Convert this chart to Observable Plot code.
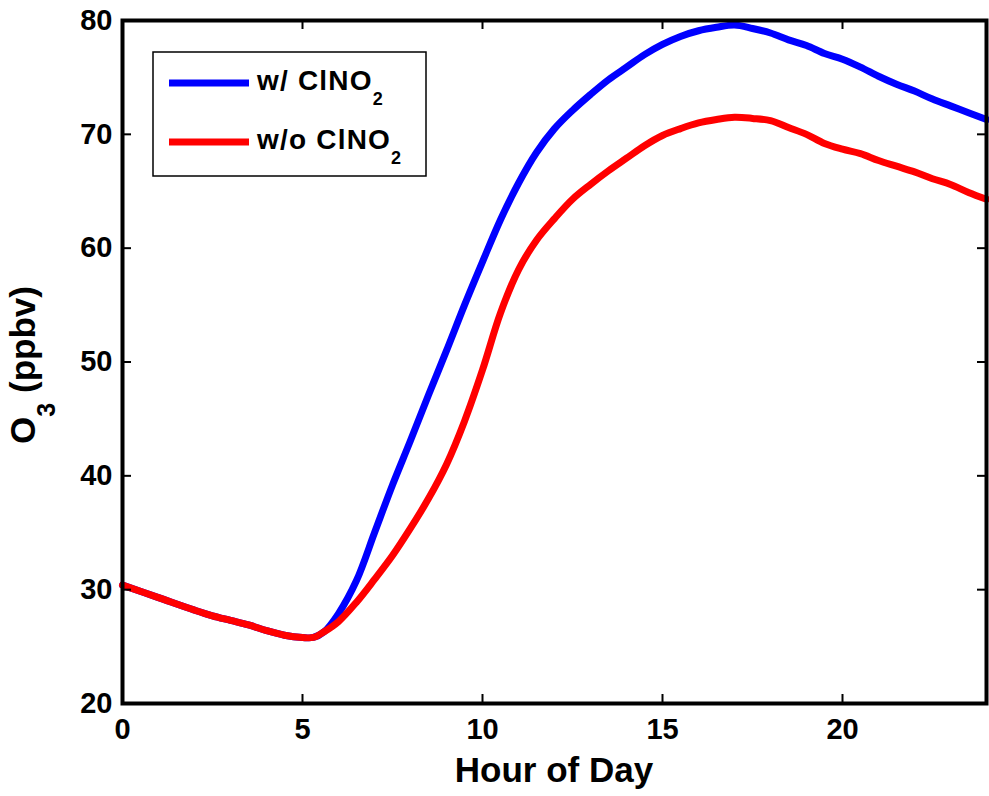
<!DOCTYPE html>
<html><head><meta charset="utf-8">
<script src="https://cdn.jsdelivr.net/npm/d3@7"></script>
<script src="https://cdn.jsdelivr.net/npm/@observablehq/plot@0.6"></script>
<style>body{margin:0;background:#fff}</style>
</head><body><div id="chart"></div>
<script>
const hours = [0,1,2,2.5,3,3.5,4,4.5,5,5.3,5.6,6,6.5,7,7.5,8,8.5,9,9.5,10,10.5,11,11.5,12,12.5,13,13.5,14,14.5,15,15.5,16,16.5,17,17.5,18,18.5,19,19.5,20,20.5,21,21.5,22,22.5,23,23.5,24];
const withClNO2 = [30.4,29.3,28.2,27.7,27.3,26.9,26.4,26.0,25.8,25.8,26.3,27.9,30.8,35.0,39.2,43.1,47.1,51.0,55.0,58.8,62.5,65.7,68.4,70.5,72.1,73.5,74.8,75.9,77.0,77.9,78.6,79.1,79.4,79.6,79.3,78.9,78.3,77.8,77.1,76.6,75.9,75.1,74.4,73.8,73.1,72.5,71.9,71.3];
const withoutClNO2 = [30.4,29.3,28.2,27.7,27.3,26.9,26.4,26.0,25.8,25.8,26.3,27.2,28.9,30.9,33.0,35.4,38.0,41.0,44.8,49.3,54.3,58.1,60.7,62.6,64.3,65.6,66.8,67.9,69.0,69.9,70.5,71.0,71.3,71.5,71.4,71.2,70.6,70.0,69.2,68.7,68.3,67.7,67.2,66.7,66.1,65.6,64.9,64.3];
const xTicks = [0,5,10,15,20];
const yTicks = [20,30,40,50,60,70,80];
const seriesNames = ["w/ ClNO", "w/o ClNO"];
const seriesColors = ["#0000ff", "#ff0000"];

const font = "'Liberation Sans', Arial, Helvetica, sans-serif";
const blueRows = hours.map((h,i)=>({hour:h, o3:withClNO2[i]}));
const redRows = hours.map((h,i)=>({hour:h, o3:withoutClNO2[i]}));

const W = 989, H = 796, mL = 122, mR = 3, mT = 20, mB = 93;
const innerW = W - mL - mR, innerH = H - mT - mB, tickLen = 9;

const plot = Plot.plot({
  width: W, height: H,
  marginLeft: mL, marginRight: mR, marginTop: mT, marginBottom: mB,
  style: {fontFamily: font, background: "#fff", color: "#000", overflow: "visible"},
  x: {domain: [0,24]},
  y: {domain: [20,80]},
  marks: [
    Plot.line(blueRows, {x:"hour", y:"o3", stroke: seriesColors[0], strokeWidth: 7, strokeLinejoin: "round", curve: "catmull-rom"}),
    Plot.line(redRows, {x:"hour", y:"o3", stroke: seriesColors[1], strokeWidth: 7, strokeLinejoin: "round", curve: "catmull-rom"}),
    Plot.tickX(xTicks, {x: d=>d, insetTop: innerH - tickLen, stroke: "#000", strokeWidth: 2}),
    Plot.tickX(xTicks, {x: d=>d, insetBottom: innerH - tickLen, stroke: "#000", strokeWidth: 2}),
    Plot.tickY(yTicks, {y: d=>d, insetRight: innerW - tickLen, stroke: "#000", strokeWidth: 2}),
    Plot.tickY(yTicks, {y: d=>d, insetLeft: innerW - tickLen, stroke: "#000", strokeWidth: 2}),
    Plot.axisX(xTicks, {tickSize: 0, tickPadding: 15, fontSize: 29, fontWeight: "bold", label: null}),
    Plot.axisY(yTicks, {tickSize: 0, tickPadding: 10, fontSize: 29, fontWeight: "bold", label: null}),
    Plot.frame({stroke: "#000", strokeWidth: 4})
  ]
});
document.getElementById("chart").appendChild(plot);

const svg = d3.select(plot);
// x axis label
svg.append("text").attr("x", 554).attr("y", 782).attr("text-anchor","middle")
  .attr("font-family", font).attr("font-size", 35).attr("font-weight","bold").attr("fill","#000")
  .text("Hour of Day");
// y axis label
const yl = svg.append("text").attr("transform","translate(35,365) rotate(-90)").attr("text-anchor","middle")
  .attr("font-family", font).attr("font-size", 35).attr("font-weight","bold").attr("fill","#000");
yl.append("tspan").text("O");
yl.append("tspan").attr("font-size", 25).attr("dy", 20).text("3");
yl.append("tspan").attr("dy", -20).text(" (ppbv)");

// legend
const lg = svg.append("g");
lg.append("rect").attr("x",153).attr("y",52).attr("width",273).attr("height",124)
  .attr("fill","#fff").attr("stroke","#000").attr("stroke-width",1.5);
const rowsY = [83, 142];
seriesNames.forEach((name,i)=>{
  lg.append("line").attr("x1",169).attr("x2",249).attr("y1",rowsY[i]).attr("y2",rowsY[i])
    .attr("stroke", seriesColors[i]).attr("stroke-width",7);
  const t = lg.append("text").attr("x",257).attr("y",rowsY[i]+7).attr("text-anchor","start")
    .attr("font-family", font).attr("font-size", 28).attr("font-weight","bold").attr("fill","#000")
    .attr("letter-spacing", 1.2);
  t.append("tspan").text(name);
  t.append("tspan").attr("font-size", 18).attr("dy", 15).text("2");
});
</script>
</body></html>
